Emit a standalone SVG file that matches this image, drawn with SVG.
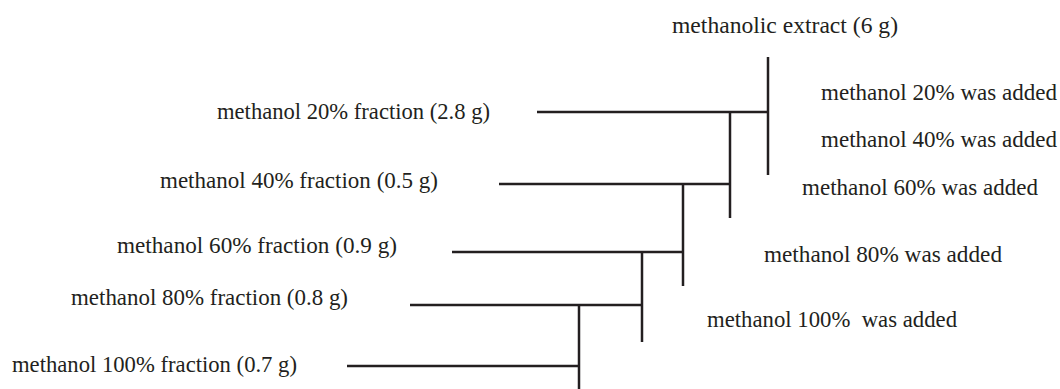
<svg xmlns="http://www.w3.org/2000/svg" width="1060" height="389" viewBox="0 0 1060 389">
<style>
text{font-family:"Liberation Serif","Times New Roman",serif;font-size:23px;fill:#231f20}
.c line{stroke:#231f20;stroke-width:2.5;stroke-linecap:butt}
</style>
<rect width="1060" height="389" fill="#fff"/>
<g id="extract"><text x="672" y="33" textLength="226" lengthAdjust="spacingAndGlyphs">methanolic extract (6 g)</text></g>
<g id="add20"><text x="821" y="100" textLength="236" lengthAdjust="spacingAndGlyphs">methanol 20% was added</text></g>
<g id="add40"><text x="821" y="147" textLength="236" lengthAdjust="spacingAndGlyphs">methanol 40% was added</text></g>
<g id="add60"><text x="802" y="195" textLength="236" lengthAdjust="spacingAndGlyphs">methanol 60% was added</text></g>
<g id="add80"><text x="764" y="262" textLength="238" lengthAdjust="spacingAndGlyphs">methanol 80% was added</text></g>
<g id="add100"><text x="707" y="327" xml:space="preserve" textLength="250" lengthAdjust="spacingAndGlyphs">methanol 100%  was added</text></g>
<g id="frac20"><text x="217" y="119" textLength="273" lengthAdjust="spacingAndGlyphs">methanol 20% fraction (2.8 g)</text></g>
<g id="frac40"><text x="160" y="188" textLength="278" lengthAdjust="spacingAndGlyphs">methanol 40% fraction (0.5 g)</text></g>
<g id="frac60"><text x="117" y="253" textLength="280" lengthAdjust="spacingAndGlyphs">methanol 60% fraction (0.9 g)</text></g>
<g id="frac80"><text x="71" y="305" textLength="277" lengthAdjust="spacingAndGlyphs">methanol 80% fraction (0.8 g)</text></g>
<g id="frac100"><text x="12" y="372" textLength="285" lengthAdjust="spacingAndGlyphs">methanol 100% fraction (0.7 g)</text></g>
<g id="connectors" class="c">
<line x1="768" y1="57" x2="768" y2="175"/>
<line x1="537" y1="112" x2="769" y2="112"/>
<line x1="730" y1="112" x2="730" y2="218"/>
<line x1="499" y1="184" x2="731" y2="184"/>
<line x1="683" y1="184" x2="683" y2="286"/>
<line x1="452" y1="252" x2="684" y2="252"/>
<line x1="642" y1="252" x2="642" y2="342"/>
<line x1="410" y1="305" x2="643" y2="305"/>
<line x1="579" y1="305" x2="579" y2="389"/>
<line x1="347" y1="366" x2="580" y2="366"/>
</g>
</svg>
